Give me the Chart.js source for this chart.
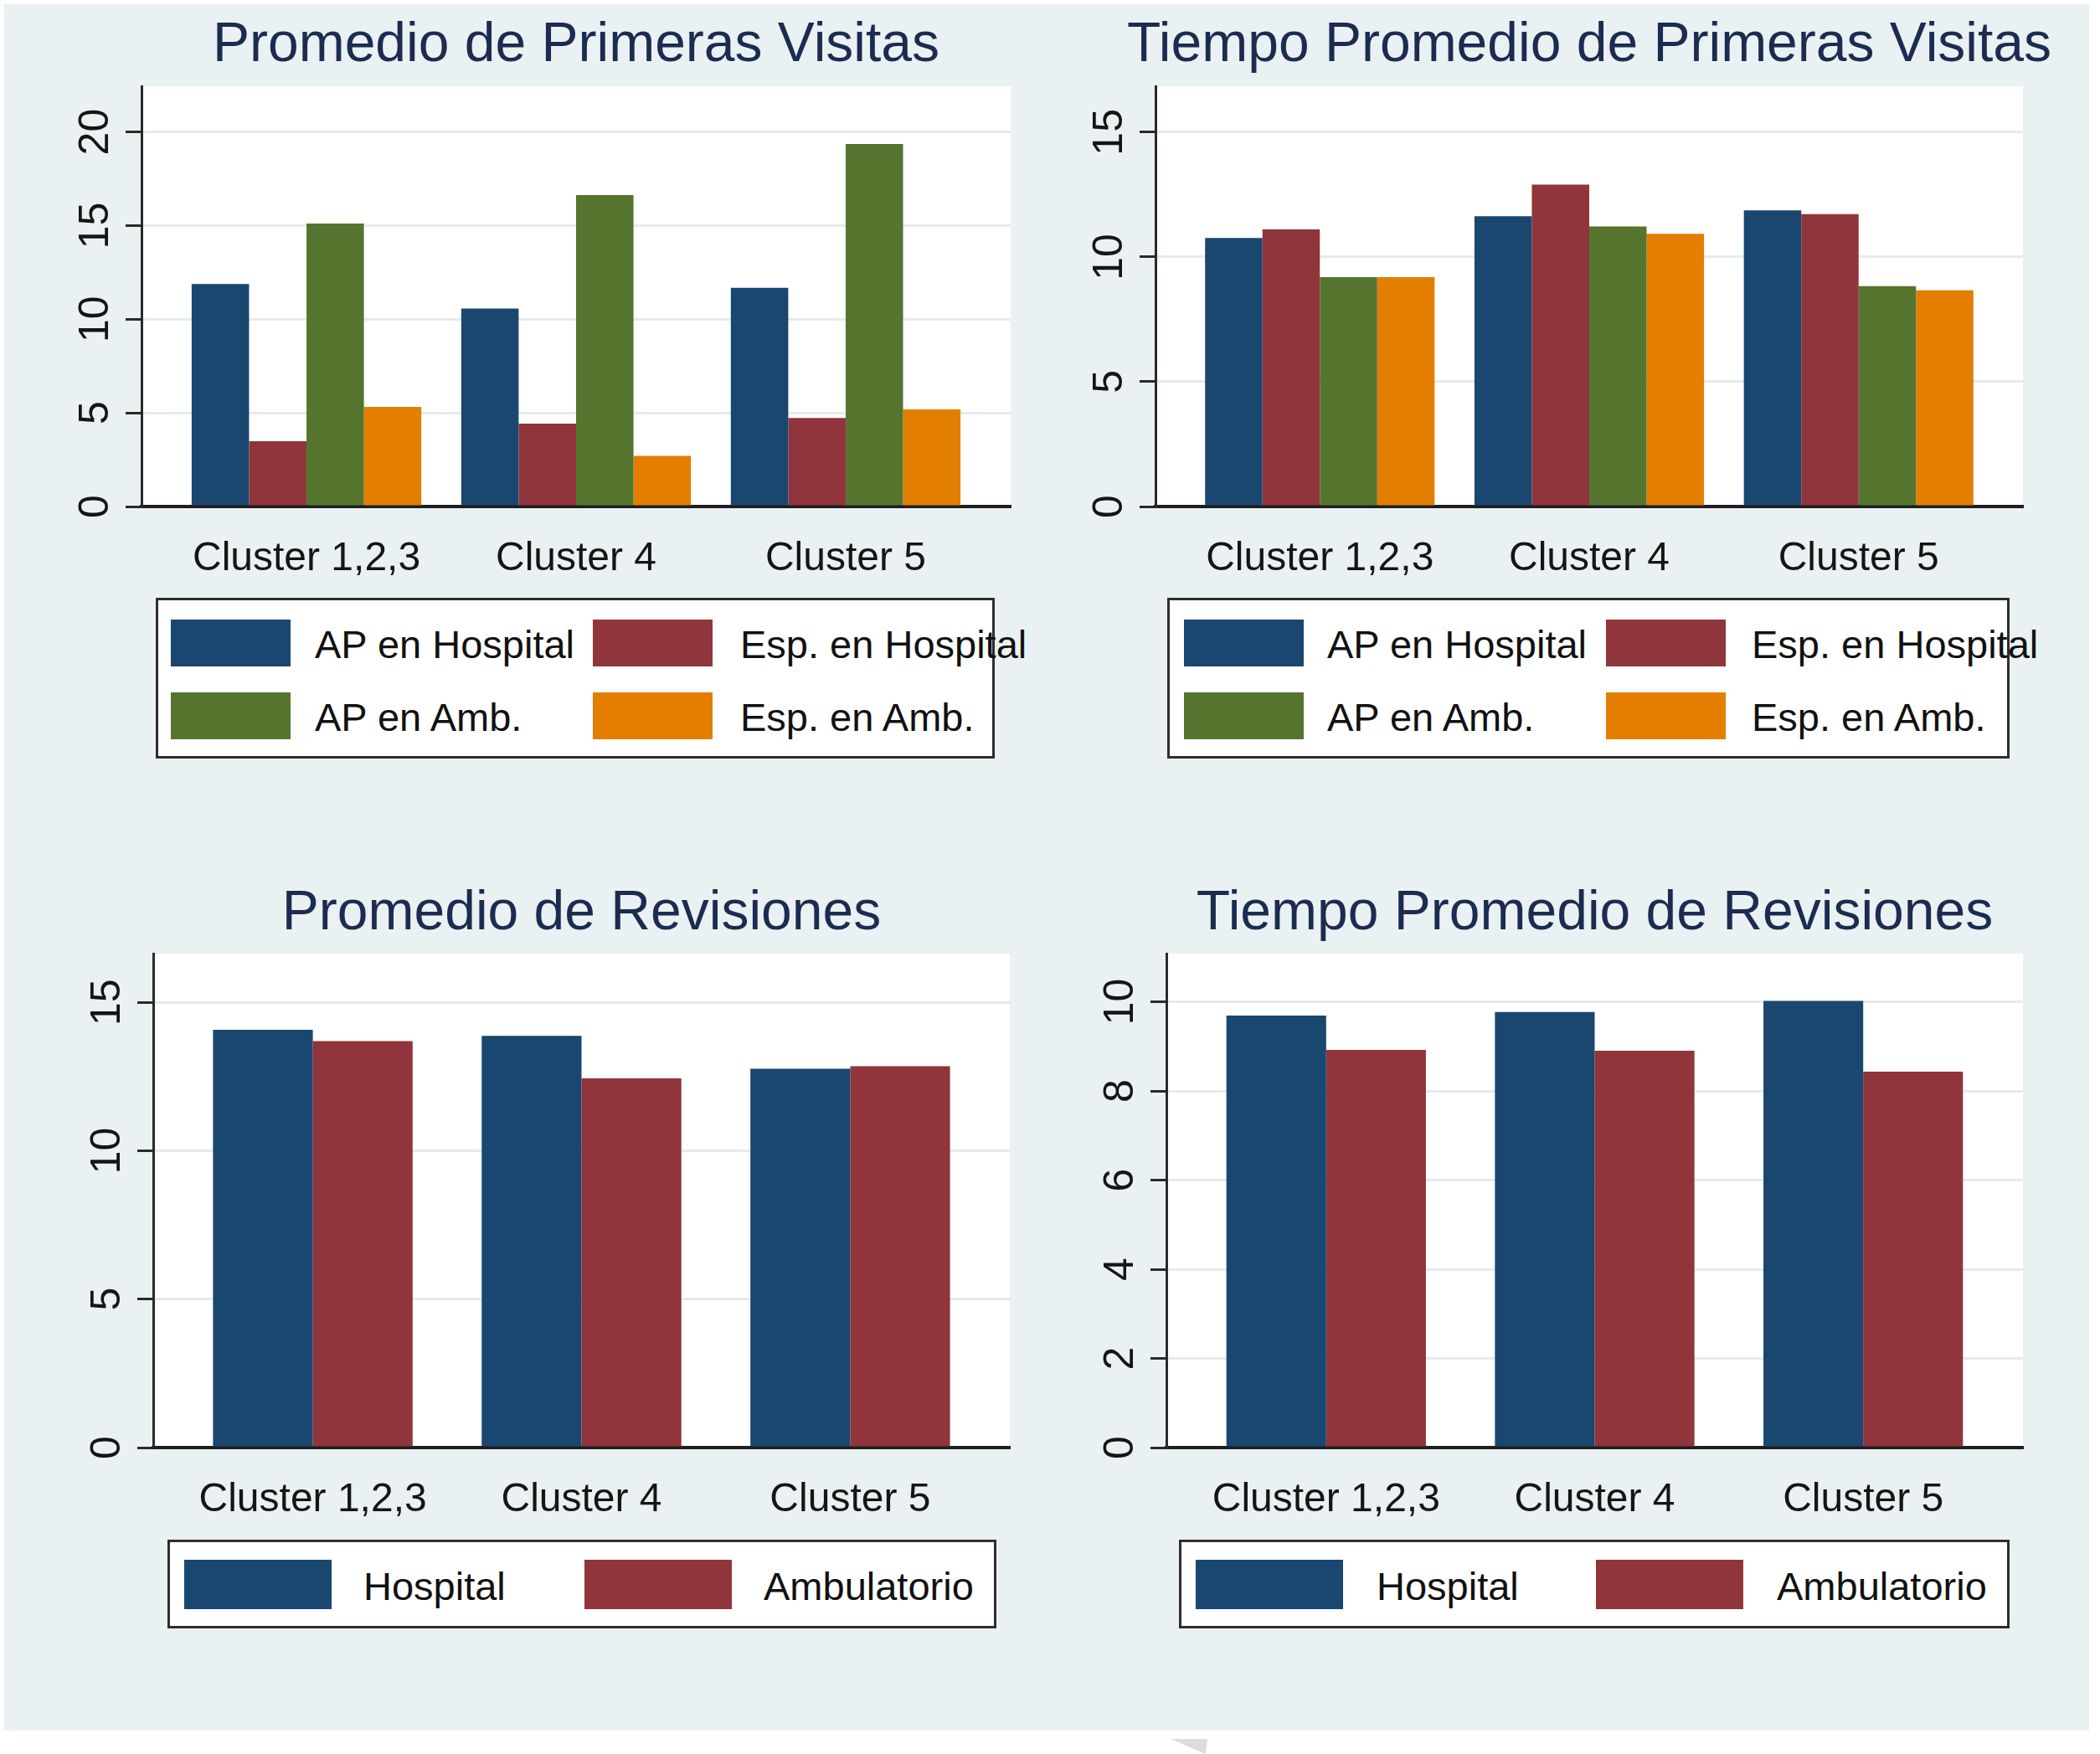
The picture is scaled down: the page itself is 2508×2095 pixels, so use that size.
<!DOCTYPE html>
<html>
<head>
<meta charset="utf-8">
<script src="https://cdn.jsdelivr.net/npm/chart.js@4/dist/chart.umd.min.js"></script>
<style>
html, body { margin: 0; padding: 0; width: 2508px; height: 2095px; overflow: hidden; background: #fff; font-family: 'Liberation Sans', Arial, sans-serif; }
#bg { position: absolute; left: 5px; top: 5px; width: 2490px; height: 2062px; background: #eaf1f3; }
#mark { position: absolute; left: 1398px; top: 2077px; width: 44px; height: 18px; background: #dcdcdc; clip-path: polygon(0 0, 100% 0, 95% 100%); }
canvas { position: absolute; }
.legend { position: absolute; background: #fff; border: 3px solid #2e2e2e; box-sizing: border-box; }
.sw { position: absolute; }
.lt { position: absolute; font-size: 47px; color: #111; white-space: nowrap; }
</style>
</head>
<body>
<div id="bg"></div>
<div id="mark"></div>
<canvas id="c1"></canvas>
<canvas id="c2"></canvas>
<canvas id="c3"></canvas>
<canvas id="c4"></canvas>
<script>
const clusters = ['Cluster 1,2,3', 'Cluster 4', 'Cluster 5'];

const visitSeries = ['AP en Hospital', 'Esp. en Hospital', 'AP en Amb.', 'Esp. en Amb.'];
const visitColors = ['#1a476f', '#90353b', '#55752f', '#e37e00'];
const revisionSeries = ['Hospital', 'Ambulatorio'];
const revisionColors = ['#1a476f', '#90353b'];

// Promedio de Primeras Visitas
const primAPHosp = [11.88, 10.57, 11.68];
const primEspHosp = [3.49, 4.42, 4.73];
const primAPAmb = [15.11, 16.63, 19.36];
const primEspAmb = [5.32, 2.7, 5.19];

// Tiempo Promedio de Primeras Visitas
const tPrimAPHosp = [10.76, 11.63, 11.87];
const tPrimEspHosp = [11.1, 12.9, 11.72];
const tPrimAPAmb = [9.19, 11.22, 8.83];
const tPrimEspAmb = [9.19, 10.93, 8.66];

// Promedio de Revisiones
const revHospital = [14.07, 13.87, 12.76];
const revAmbulatorio = [13.69, 12.44, 12.85];

// Tiempo Promedio de Revisiones
const tRevHospital = [9.69, 9.77, 10.02];
const tRevAmbulatorio = [8.92, 8.9, 8.43];

const yTicksPrim = [0, 5, 10, 15, 20];
const yTicksTPrim = [0, 5, 10, 15];
const yTicksRev = [0, 5, 10, 15];
const yTicksTRev = [0, 2, 4, 6, 8, 10];

const TITLE_SIZE = 66;
const Y_AXIS_W = 160;
const X_AXIS_H = 95;

const panels = [
    {
        id: 'c1', title: 'Promedio de Primeras Visitas', series: visitSeries, colors: visitColors,
        values: [primAPHosp, primEspHosp, primAPAmb, primEspAmb], yTicks: yTicksPrim, yMax: 22.44,
        top: 0, plot: { l: 169, r: 1207, t: 103, b: 605 }, titleMid: 55, xPad: 0.612, groupPct: 0.852,
        legend: { box: [186, 714, 1002, 192], sw: [[204, 708], [740, 827], 143, 56], text: [376, 884] }
    },
    {
        id: 'c2', title: 'Tiempo Promedio de Primeras Visitas', series: visitSeries, colors: visitColors,
        values: [tPrimAPHosp, tPrimEspHosp, tPrimAPAmb, tPrimEspAmb], yTicks: yTicksTPrim, yMax: 16.84,
        top: 0, plot: { l: 1380, r: 2416, t: 103, b: 605 }, titleMid: 55, xPad: 0.61, groupPct: 0.852,
        legend: { box: [1394, 714, 1006, 192], sw: [[1414, 1918], [740, 827], 143, 56], text: [1585, 2092] }
    },
    {
        id: 'c3', title: 'Promedio de Revisiones', series: revisionSeries, colors: revisionColors,
        values: [revHospital, revAmbulatorio], yTicks: yTicksRev, yMax: 16.64,
        top: 1000, plot: { l: 183, r: 1206, t: 1139, b: 1729 }, titleMid: 1092, xPad: 0.594, groupPct: 0.743,
        legend: { box: [200, 1839, 990, 106], sw: [[220, 698], [1863], 176, 59], text: [434, 912] }
    },
    {
        id: 'c4', title: 'Tiempo Promedio de Revisiones', series: revisionSeries, colors: revisionColors,
        values: [tRevHospital, tRevAmbulatorio], yTicks: yTicksTRev, yMax: 11.08,
        top: 1000, plot: { l: 1393, r: 2416, t: 1139, b: 1729 }, titleMid: 1092, xPad: 0.595, groupPct: 0.743,
        legend: { box: [1408, 1839, 992, 106], sw: [[1428, 1906], [1863], 176, 59], text: [1644, 2122] }
    }
];

Chart.defaults.font.family = "'Liberation Sans', Arial, sans-serif";

const plotBackground = {
    id: 'plotBackground',
    beforeDraw(chart) {
        const a = chart.chartArea;
        chart.ctx.save();
        chart.ctx.fillStyle = '#ffffff';
        chart.ctx.fillRect(a.left, a.top, a.right - a.left, a.bottom - a.top);
        chart.ctx.restore();
    }
};

function buildChart(p) {
    const canvas = document.getElementById(p.id);
    // an empty right axis as wide as the left one keeps the title centred over the plot
    const left = p.plot.l - Y_AXIS_W;
    const right = p.plot.r + Y_AXIS_W;
    const width = right - left;
    const height = p.plot.b + X_AXIS_H - p.top;
    canvas.width = width;
    canvas.height = height;
    canvas.style.left = left + 'px';
    canvas.style.top = p.top + 'px';
    canvas.style.width = width + 'px';
    canvas.style.height = height + 'px';

    const lineH = TITLE_SIZE * 1.2;
    const padTop = p.titleMid - lineH / 2 - p.top;
    const titleBottom = p.plot.t - p.titleMid - lineH / 2;

    const datasets = p.series.map((name, i) => ({
        label: name,
        data: p.values[i].map((v, j) => ({ x: j, y: v })),
        backgroundColor: p.colors[i],
        borderWidth: 0,
        categoryPercentage: p.groupPct,
        barPercentage: 1
    }));

    return new Chart(canvas, {
        type: 'bar',
        data: { datasets },
        plugins: [plotBackground],
        options: {
            responsive: false,
            animation: false,
            devicePixelRatio: 1,
            layout: { padding: { left: 0, right: 0, top: padTop, bottom: 0 } },
            plugins: {
                legend: { display: false },
                tooltip: { enabled: false },
                title: {
                    display: true,
                    text: p.title,
                    color: '#1c2c50',
                    font: { size: TITLE_SIZE, weight: 'normal' },
                    padding: { top: 0, bottom: titleBottom }
                }
            },
            scales: {
                x: {
                    type: 'linear',
                    offset: false,
                    bounds: 'data',
                    min: -p.xPad,
                    max: clusters.length - 1 + p.xPad,
                    afterBuildTicks: s => { s.ticks = clusters.map((c, i) => ({ value: i })); },
                    afterFit: s => { s.height = X_AXIS_H; },
                    grid: { display: false, offset: false },
                    border: { display: true, color: '#1e1e1e', width: 4 },
                    ticks: {
                        callback: v => clusters[v],
                        autoSkip: false,
                        maxRotation: 0,
                        color: '#151515',
                        font: { size: 48 },
                        padding: 26
                    }
                },
                y: {
                    min: 0,
                    max: p.yMax,
                    afterBuildTicks: s => { s.ticks = p.yTicks.map(v => ({ value: v })); },
                    afterFit: s => { s.width = Y_AXIS_W; },
                    grid: { color: '#e5ebed', lineWidth: 3, drawTicks: true, tickLength: 19, tickColor: '#2a2a2a', tickWidth: 3 },
                    border: { display: true, color: '#2a2a2a', width: 3 },
                    ticks: {
                        color: '#151515',
                        font: { size: 50 },
                        minRotation: 90,
                        maxRotation: 90,
                        crossAlign: 'center',
                        padding: 7
                    }
                },
                yRight: {
                    position: 'right',
                    min: 0,
                    max: p.yMax,
                    afterFit: s => { s.width = Y_AXIS_W; },
                    grid: { display: false },
                    border: { display: false },
                    ticks: { display: false }
                }
            }
        }
    });
}

function buildLegend(p) {
    const L = p.legend;
    const box = document.createElement('div');
    box.className = 'legend';
    box.style.left = L.box[0] + 'px';
    box.style.top = L.box[1] + 'px';
    box.style.width = L.box[2] + 'px';
    box.style.height = L.box[3] + 'px';
    document.body.appendChild(box);

    p.series.forEach((name, i) => {
        const col = i % 2;
        const row = Math.floor(i / 2);
        const sw = document.createElement('div');
        sw.className = 'sw';
        sw.style.left = L.sw[0][col] + 'px';
        sw.style.top = L.sw[1][row] + 'px';
        sw.style.width = L.sw[2] + 'px';
        sw.style.height = L.sw[3] + 'px';
        sw.style.background = p.colors[i];
        document.body.appendChild(sw);

        const t = document.createElement('div');
        t.className = 'lt';
        t.textContent = name;
        t.style.left = L.text[col] + 'px';
        t.style.top = (L.sw[1][row] + 2) + 'px';
        t.style.lineHeight = L.sw[3] + 'px';
        document.body.appendChild(t);
    });
}

panels.forEach(p => {
    buildChart(p);
    buildLegend(p);
});
</script>
</body>
</html>
